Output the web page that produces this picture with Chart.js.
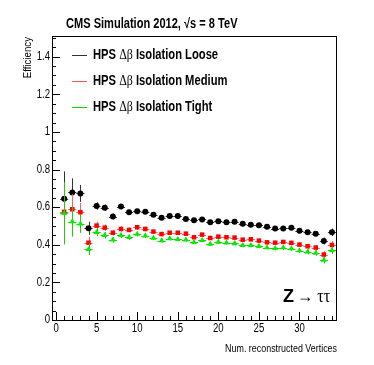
<!DOCTYPE html>
<html>
<head>
<meta charset="utf-8">
<script src="https://cdn.jsdelivr.net/npm/chart.js@4.4.1/dist/chart.umd.min.js"></script>
<style>
  html, body { margin: 0; padding: 0; background: #fff; }
  #wrap { width: 374px; height: 365px; }
</style>
</head>
<body>
<div id="wrap"><canvas id="effChart" width="374" height="365"></canvas></div>
<script>
// Datos
const vertices = [1,2,3,4,5,6,7,8,9,10,11,12,13,14,15,16,17,18,19,20,21,22,23,24,25,26,27,28,29,30,31,32,33,34];
const looseEff  = [0.645,0.678,0.673,0.488,0.606,0.597,0.550,0.603,0.573,0.578,0.576,0.559,0.543,0.553,0.553,0.537,0.530,0.535,0.520,0.525,0.520,0.522,0.512,0.507,0.504,0.496,0.486,0.487,0.491,0.475,0.466,0.459,0.420,0.466];
const mediumEff = [0.575,0.589,0.573,0.411,0.502,0.491,0.464,0.484,0.479,0.493,0.484,0.470,0.457,0.464,0.464,0.459,0.440,0.454,0.436,0.443,0.440,0.438,0.427,0.429,0.422,0.413,0.411,0.415,0.410,0.401,0.392,0.385,0.348,0.399];
const tightEff  = [0.567,0.523,0.511,0.376,0.466,0.450,0.426,0.450,0.440,0.457,0.448,0.436,0.422,0.433,0.429,0.427,0.413,0.424,0.404,0.415,0.411,0.407,0.397,0.397,0.392,0.385,0.381,0.385,0.380,0.369,0.362,0.356,0.319,0.370];
const looseErr  = [0.145,0.075,0.045,0.035,0.020,0.017,0.015,0.014,0.013,0.012,0.012,0.011,0.011,0.010,0.010,0.010,0.010,0.010,0.010,0.010,0.010,0.010,0.010,0.010,0.010,0.010,0.011,0.011,0.012,0.012,0.013,0.014,0.018,0.020];
const mediumErr = [0.155,0.080,0.050,0.032,0.020,0.017,0.015,0.014,0.013,0.012,0.012,0.011,0.011,0.010,0.010,0.010,0.010,0.010,0.010,0.010,0.010,0.010,0.010,0.010,0.010,0.010,0.011,0.011,0.012,0.012,0.013,0.014,0.018,0.020];
const tightErr  = [0.165,0.080,0.048,0.030,0.020,0.017,0.015,0.014,0.013,0.012,0.012,0.011,0.011,0.010,0.010,0.010,0.010,0.010,0.010,0.010,0.010,0.010,0.010,0.010,0.010,0.010,0.011,0.011,0.012,0.012,0.013,0.014,0.018,0.020];
const yTickValues = [0, 0.2, 0.4, 0.6, 0.8, 1, 1.2, 1.4];
const xTickValues = [0, 5, 10, 15, 20, 25, 30];
const seriesNames = ['Loose', 'Medium', 'Tight'];
const legendColors = ['#333333', '#ff5555', '#00dd00'];

const FONT = '"Liberation Sans", Arial, sans-serif';
const SERIF = '"Liberation Serif", "Times New Roman", serif';

function toPoints(vals) {
    return vertices.map((v, i) => ({ x: v, y: vals[i] }));
}

// Texto estrecho (las fuentes de ROOT salen comprimidas en horizontal)
function narrowText(ctx, txt, x, y, sx) {
    ctx.save();
    ctx.translate(x, y);
    ctx.scale(sx, 1);
    ctx.fillText(txt, 0, 0);
    ctx.restore();
    return ctx.measureText(txt).width * sx;
}

// Barras de error (dibujadas con las escalas del gráfico)
const errorBars = {
    id: 'errorBars',
    beforeDatasetDraw(chart, args) {
        const ds = chart.data.datasets[args.index];
        const xs = chart.scales.x, ys = chart.scales.y;
        const ctx = chart.ctx;
        ctx.save();
        ctx.strokeStyle = ds.errColor;
        ctx.lineWidth = 1;
        ds.data.forEach((p, i) => {
            const e = ds.errors[i];
            const px = Math.round(xs.getPixelForValue(p.x)) + 0.5;
            const py = Math.round(ys.getPixelForValue(p.y)) + 0.5;
            ctx.beginPath();
            ctx.moveTo(xs.getPixelForValue(p.x - 0.5), py);
            ctx.lineTo(xs.getPixelForValue(p.x + 0.5), py);
            ctx.moveTo(px, ys.getPixelForValue(p.y - e));
            ctx.lineTo(px, ys.getPixelForValue(p.y + e));
            ctx.stroke();
        });
        ctx.restore();
    }
};

// Marco, ticks hacia dentro, textos y leyenda al estilo ROOT
const rootFrame = {
    id: 'rootFrame',
    afterDraw(chart) {
        const ctx = chart.ctx;
        const { left, right, top, bottom } = chart.chartArea;
        const xs = chart.scales.x, ys = chart.scales.y;
        ctx.save();
        ctx.strokeStyle = '#000';
        ctx.lineWidth = 1;
        ctx.strokeRect(left + 0.5, top + 0.5, right - left, bottom - top);

        ctx.beginPath();
        // eje x: ticks menores cada 1, mayores cada 5
        for (let v = 0; v <= 34; v++) {
            const px = Math.round(xs.getPixelForValue(v)) + 0.5;
            const len = v % 5 === 0 ? 8 : 4;
            ctx.moveTo(px, bottom);
            ctx.lineTo(px, bottom - len);
        }
        // eje y: ticks menores cada 0.05
        for (let k = 0; k <= 30; k++) {
            const v = k * 0.05;
            const py = Math.round(ys.getPixelForValue(v)) + 0.5;
            const len = k % 4 === 0 ? 8 : 4;
            ctx.moveTo(left, py);
            ctx.lineTo(left + len, py);
        }
        ctx.stroke();

        ctx.fillStyle = '#000';

        // Etiquetas de los ticks
        ctx.font = '12px ' + FONT;
        ctx.textBaseline = 'middle';
        ctx.textAlign = 'right';
        yTickValues.forEach(v => {
            const lbl = String(v);
            const py = ys.getPixelForValue(v);
            narrowText(ctx, lbl, left - 2, py, 0.8);
        });
        ctx.textAlign = 'center';
        xTickValues.forEach(v => {
            narrowText(ctx, String(v), xs.getPixelForValue(v), bottom + 9, 0.8);
        });

        // Título
        ctx.textBaseline = 'alphabetic';
        ctx.textAlign = 'left';
        ctx.font = 'bold 14px ' + FONT;
        narrowText(ctx, 'CMS Simulation 2012, \u221As = 8 TeV', 66, 28, 0.79);

        // Títulos de ejes
        ctx.font = '11px ' + FONT;
        ctx.textAlign = 'right';
        narrowText(ctx, 'Num. reconstructed Vertices', right + 1, 352, 0.81);
        ctx.save();
        ctx.translate(31, top + 1);
        ctx.rotate(-Math.PI / 2);
        narrowText(ctx, 'Efficiency', 0, 0, 0.88);
        ctx.restore();

        // Leyenda
        const legendY = [55, 81, 107];
        seriesNames.forEach((name, i) => {
            const y = legendY[i];
            ctx.strokeStyle = legendColors[i];
            ctx.lineWidth = 1;
            ctx.beginPath();
            ctx.moveTo(72, y + 0.5);
            ctx.lineTo(87, y + 0.5);
            ctx.stroke();
            let x = 93;
            ctx.textAlign = 'left';
            ctx.textBaseline = 'middle';
            ctx.font = 'bold 14px ' + FONT;
            x += narrowText(ctx, 'HPS ', x, y, 0.8);
            ctx.font = '14px ' + SERIF;
            x += narrowText(ctx, '\u0394\u03B2', x, y, 0.85);
            ctx.font = 'bold 14px ' + FONT;
            narrowText(ctx, ' Isolation ' + name, x, y, 0.8);
        });

        // Z -> tautau
        ctx.textBaseline = 'alphabetic';
        ctx.textAlign = 'left';
        ctx.font = 'bold 19px ' + FONT;
        let zx = 283 + narrowText(ctx, 'Z', 283, 302, 0.95) + 3;
        ctx.font = '18px ' + SERIF;
        narrowText(ctx, '\u2192 \u03C4\u03C4', zx, 302, 0.9);
        ctx.restore();
    }
};

const ctx = document.getElementById('effChart').getContext('2d');
new Chart(ctx, {
    type: 'scatter',
    data: {
        datasets: [
            {
                label: 'HPS \u0394\u03B2 Isolation Loose',
                data: toPoints(looseEff),
                errors: looseErr,
                errColor: '#333333',
                pointStyle: 'circle',
                pointRadius: 3,
                backgroundColor: '#000',
                borderColor: '#000',
                borderWidth: 0,
                order: 2
            },
            {
                label: 'HPS \u0394\u03B2 Isolation Medium',
                data: toPoints(mediumEff),
                errors: mediumErr,
                errColor: '#ff6060',
                pointStyle: 'rect',
                pointRadius: 3.2,
                backgroundColor: '#ff0000',
                borderColor: '#ff0000',
                borderWidth: 0,
                order: 1
            },
            {
                label: 'HPS \u0394\u03B2 Isolation Tight',
                data: toPoints(tightEff),
                errors: tightErr,
                errColor: '#22cc00',
                pointStyle: 'triangle',
                pointRadius: 3.4,
                backgroundColor: '#00ee00',
                borderColor: '#00ee00',
                borderWidth: 0,
                order: 0
            }
        ]
    },
    options: {
        responsive: false,
        animation: false,
        layout: { padding: { left: 0, right: 38, top: 36, bottom: 0 } },
        plugins: {
            legend: { display: false },
            tooltip: { enabled: false },
            title: { display: false }
        },
        scales: {
            x: {
                type: 'linear',
                min: -0.5,
                max: 34.5,
                afterBuildTicks: s => { s.ticks = xTickValues.map(v => ({ value: v })); },
                afterFit: s => { s.height = 45; },
                grid: { display: false, drawTicks: false },
                border: { display: false },
                ticks: { display: false }
            },
            y: {
                type: 'linear',
                min: 0,
                max: 1.51,
                afterBuildTicks: s => { s.ticks = yTickValues.map(v => ({ value: v })); },
                afterFit: s => { s.width = 52; },
                grid: { display: false, drawTicks: false },
                border: { display: false },
                ticks: { display: false }
            }
        }
    },
    plugins: [errorBars, rootFrame]
});
</script>
</body>
</html>
